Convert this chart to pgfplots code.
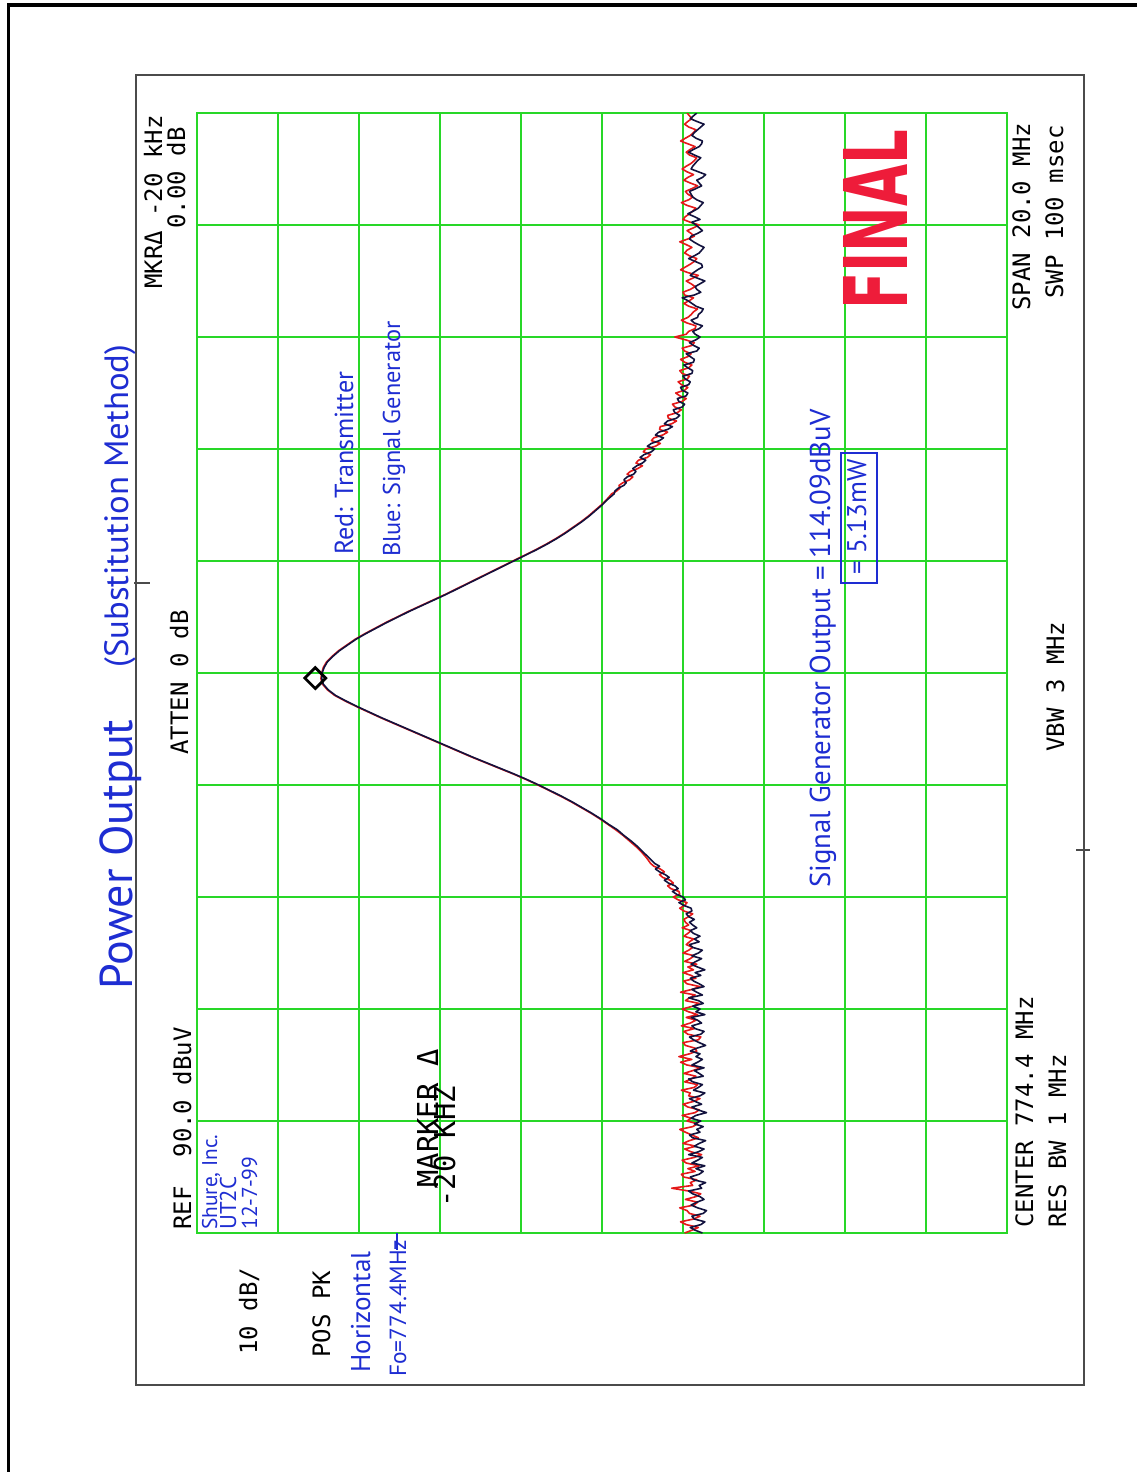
\documentclass[border=0pt]{standalone}
\usepackage{fontspec}
\usepackage{pgfplots}
\pgfplotsset{compat=1.18}
\usepackage{pgfplotstable}

\newfontfamily\plotter{DejaVu Sans Mono}
\newfontfamily\hand{PT Sans}
\newfontfamily\stamp{DejaVu Sans}

\definecolor{gridgreen}{RGB}{40,215,40}
\definecolor{trred}{RGB}{228,25,25}
\definecolor{trblue}{RGB}{18,18,62}
\definecolor{ink}{RGB}{30,45,210}
\definecolor{stampred}{RGB}{238,28,58}
\definecolor{framegray}{RGB}{75,75,75}

% Spectrum analyser sweep: frequency (MHz), transmitter trace (r), signal generator trace (b), levels in dBuV
\pgfplotstableread{
f r b
764.40 29.8 27.6
764.45 28.9 28.5
764.50 28.1 29.1
764.55 29.6 27.8
764.60 30.3 27.3
764.65 28.7 28.6
764.70 27.9 28.9
764.75 29.2 27.5
764.80 29.5 27.1
764.85 30.4 28.2
764.90 28.6 29.0
764.95 28.2 28.3
765.00 29.7 27.4
765.05 28.4 27.9
765.10 27.8 28.8
765.15 29.3 29.3
765.20 31.4 27.7
765.25 28.8 28.0
765.30 29.1 27.2
765.35 28.3 28.7
765.40 29.9 29.1
765.45 30.2 28.0
765.50 28.5 27.5
765.55 29.4 28.4
765.60 28.0 27.3
765.65 29.6 28.9
765.70 30.1 28.2
765.75 28.6 27.6
765.80 27.7 29.3
765.85 29.0 28.1
765.90 29.8 27.4
765.95 28.4 28.6
766.00 30.0 28.0
766.05 29.2 27.2
766.10 28.1 28.8
766.15 28.9 29.2
766.20 29.7 27.9
766.25 30.4 28.3
766.30 28.8 27.5
766.35 28.2 28.6
766.40 29.5 27.8
766.45 29.0 29.0
766.50 30.1 28.4
766.55 28.5 27.1
766.60 28.0 28.2
766.65 29.4 28.9
766.70 30.0 27.7
766.75 28.7 28.5
766.80 27.9 29.2
766.85 29.3 27.9
766.90 29.1 27.3
766.95 30.2 28.7
767.00 28.6 28.1
767.05 28.2 27.6
767.10 29.8 28.8
767.15 29.0 29.3
767.20 28.4 27.5
767.25 29.9 28.0
767.30 28.8 28.6
767.35 27.8 27.4
767.40 29.5 28.9
767.45 30.3 28.2
767.50 28.9 27.6
767.55 30.5 28.4
767.60 29.2 27.9
767.65 28.3 29.1
767.70 28.5 28.3
767.75 29.7 27.2
767.80 30.0 28.0
767.85 28.1 28.7
767.90 27.8 29.2
767.95 29.4 27.8
768.00 29.9 27.4
768.05 28.6 28.5
768.10 30.2 28.9
768.15 29.1 27.7
768.20 28.4 28.2
768.25 29.6 29.0
768.30 28.2 27.3
768.35 29.3 28.4
768.40 30.1 27.9
768.45 28.8 28.8
768.50 28.0 27.5
768.55 29.7 28.1
768.60 29.2 29.3
768.65 28.5 27.6
768.70 30.3 28.3
768.75 28.9 28.9
768.80 27.9 27.4
768.85 29.5 28.0
768.90 29.9 28.7
768.95 28.4 29.1
769.00 29.0 27.8
769.05 30.0 28.5
769.10 28.7 27.3
769.15 29.4 28.2
769.20 28.3 29.0
769.25 29.8 28.4
769.30 29.1 27.7
769.35 28.6 28.9
769.40 30.0 28.1
769.45 29.3 27.6
769.50 28.8 28.8
769.55 29.6 29.2
769.60 29.2 28.0
769.65 28.7 28.6
769.70 29.9 27.9
769.75 29.4 28.7
769.80 29.0 29.1
769.85 30.1 28.3
769.90 29.3 28.8
769.95 29.7 29.2
770.00 29.9 28.6
770.05 29.3 29.3
770.10 28.8 29.6
770.15 29.9 28.9
770.20 30.4 29.0
770.25 29.8 29.9
770.30 29.5 30.5
770.35 30.6 29.7
770.40 31.2 30.0
770.45 30.4 30.8
770.50 30.5 31.3
770.55 31.5 30.6
770.60 31.9 31.0
770.65 31.2 31.8
770.70 31.6 32.3
770.75 32.5 31.7
770.80 32.9 32.2
770.85 32.3 32.9
770.90 32.8 33.4
770.95 33.6 32.9
771.00 34.0 33.5
771.10 34.5 34.2
771.20 35.1 34.9
771.30 35.8 35.6
771.40 36.6 36.4
771.50 37.4 37.3
771.60 38.3 38.1
771.70 39.3 39.2
771.80 40.3 40.2
771.90 41.4 41.3
772.00 42.6 42.5
772.10 43.8 43.7
772.20 45.1 45.0
772.30 46.5 46.4
772.40 47.9 47.8
772.50 49.4 49.3
772.60 51.0 50.9
772.70 52.7 52.6
772.80 54.4 54.3
772.90 56.1 56.0
773.00 57.7 57.6
773.10 59.3 59.2
773.20 60.9 60.8
773.30 62.5 62.4
773.40 64.1 64.0
773.50 65.7 65.6
773.60 67.3 67.2
773.70 68.8 68.7
773.80 70.3 70.2
773.90 71.7 71.6
774.00 73.0 72.9
774.10 73.9 73.8
774.20 74.5 74.4
774.30 74.7 74.6
774.40 74.6 74.55
774.50 74.4 74.3
774.60 74.0 73.9
774.70 73.3 73.2
774.80 72.5 72.4
774.90 71.5 71.4
775.00 70.5 70.4
775.10 69.3 69.2
775.20 68.0 67.9
775.30 66.7 66.6
775.40 65.3 65.2
775.50 63.9 63.8
775.60 62.4 62.3
775.70 60.9 60.8
775.80 59.4 59.3
775.90 58.0 57.9
776.00 56.6 56.5
776.10 55.2 55.1
776.20 53.8 53.7
776.30 52.4 52.3
776.40 51.0 50.9
776.50 49.6 49.5
776.60 48.2 48.1
776.70 46.9 46.8
776.80 45.7 45.6
776.90 44.6 44.5
777.00 43.6 43.5
777.10 42.6 42.5
777.20 41.7 41.6
777.30 40.9 40.8
777.40 40.1 40.0
777.50 39.4 39.3
777.60 38.8 38.5
777.65 38.2 38.4
777.70 37.8 38.0
777.75 37.9 37.3
777.80 37.4 37.0
777.85 36.6 37.3
777.90 36.2 36.9
777.95 36.9 36.1
778.00 36.5 35.8
778.05 35.6 36.2
778.10 35.0 35.7
778.15 35.8 35.0
778.20 35.5 34.6
778.25 34.4 35.3
778.30 34.0 34.8
778.35 34.9 33.9
778.40 34.6 33.5
778.45 33.4 34.4
778.50 32.8 33.9
778.55 33.9 32.9
778.60 33.6 32.4
778.65 32.5 33.4
778.70 31.9 33.0
778.75 32.9 31.9
778.80 32.8 31.3
778.85 31.4 32.3
778.90 30.8 31.9
778.95 31.8 30.8
779.00 31.9 30.4
779.05 30.7 31.0
779.10 30.2 31.2
779.15 31.0 30.1
779.20 31.3 29.8
779.25 30.1 30.5
779.30 29.6 30.7
779.35 30.4 29.6
779.40 30.9 29.4
779.45 29.8 30.1
779.50 29.4 30.3
779.55 30.2 29.3
779.60 30.6 29.1
779.65 29.5 29.7
779.70 29.2 30.0
779.75 30.1 28.9
779.80 30.4 28.8
779.85 29.3 29.4
779.90 28.9 29.9
779.95 29.8 28.7
780.00 30.3 28.6
780.05 29.4 29.1
780.10 29.0 29.6
780.15 29.8 28.3
780.20 30.1 28.0
780.25 28.9 28.7
780.30 28.6 29.2
780.35 29.7 28.4
780.40 31.0 27.9
780.45 29.6 28.5
780.50 29.3 28.8
780.55 28.5 28.0
780.60 28.4 27.6
780.65 29.5 28.6
780.70 30.2 29.0
780.75 29.4 28.2
780.80 29.0 28.1
780.85 28.7 27.7
780.90 28.2 27.5
780.95 29.3 28.4
781.00 29.9 28.9
781.05 29.2 29.4
781.10 28.7 30.1
781.15 29.8 28.6
781.20 30.0 27.8
781.25 29.1 28.3
781.30 28.5 28.5
781.35 29.0 27.9
781.40 29.6 27.3
781.45 28.8 28.2
781.50 28.1 29.1
781.55 29.4 28.7
781.60 30.3 28.2
781.65 29.7 27.6
781.70 29.1 27.7
781.75 28.6 28.5
781.80 28.3 29.3
781.85 29.2 28.6
781.90 29.8 28.0
781.95 29.5 27.7
782.00 28.9 27.4
782.05 29.6 28.1
782.10 30.4 28.7
782.15 29.4 29.2
782.20 28.6 29.0
782.25 29.0 28.2
782.30 29.5 27.6
782.35 28.7 28.0
782.40 28.0 28.4
782.45 29.1 28.9
782.50 30.0 27.9
782.55 29.7 28.6
782.60 29.2 29.4
782.65 28.8 28.7
782.70 28.4 28.1
782.75 29.5 27.8
782.80 30.2 27.5
782.85 29.3 28.3
782.90 28.8 28.8
782.95 29.4 29.0
783.00 29.7 29.2
783.05 28.9 28.4
783.10 28.2 27.7
783.15 29.1 28.0
783.20 29.9 28.3
783.25 29.4 27.6
783.30 28.7 27.2
783.35 29.5 28.1
783.40 30.1 29.0
783.45 29.6 28.8
783.50 29.0 28.5
783.55 28.6 28.2
783.60 28.3 27.8
783.65 29.2 28.6
783.70 29.6 29.3
783.75 29.1 28.7
783.80 28.5 28.0
783.85 29.4 27.7
783.90 30.3 27.6
783.95 29.7 28.4
784.00 29.1 28.9
784.05 28.7 28.6
784.10 28.4 28.2
784.15 29.3 27.8
784.20 29.8 27.4
784.25 29.4 28.3
784.30 28.9 29.1
784.35 29.2 28.7
784.40 29.5 28.3
}\tracedata

\tikzset{
  prt/.style={rotate=90, inner sep=0pt, font=\plotter\fontsize{12}{14}\selectfont},
  big/.style={rotate=90, inner sep=0pt, font=\plotter\fontsize{14.4}{16}\selectfont},
  hw/.style={rotate=90, inner sep=0pt, text=ink, font=\hand},
}

\begin{document}
\begin{tikzpicture}
% page: 1 unit = one pixel of the printout, origin top-left
\begin{scope}[x=0.5pt, y=-0.5pt]
  \path[use as bounding box] (0,0) rectangle (1137,1472);
  \fill[white] (0,0) rectangle (1137,1472);
  \draw[black, line width=1.6pt] (8.5,1472) -- (8.5,5) -- (1137,5);
  \draw[framegray, line width=1pt] (136,75) rectangle (1084,1385);
  \draw[framegray, line width=0.8pt] (134,583) -- (150,583);
  \draw[framegray, line width=0.8pt] (1076,850) -- (1090,850);
\end{scope}

% analyser screen: level axis runs left to right (reference level at left), frequency bottom to top
\begin{axis}[
  at={(98.5pt,-616.5pt)}, anchor=south west,
  scale only axis, width=405pt, height=560pt,
  x dir=reverse, xmin=-10, xmax=90,
  ymin=764.4, ymax=784.4,
  xtick={-10,0,...,90},
  ytick={764.4,766.4,768.4,770.4,772.4,774.4,776.4,778.4,780.4,782.4,784.4},
  xticklabels={}, yticklabels={},
  major tick length=0pt,
  grid=major,
  major grid style={draw=gridgreen, line width=1.1pt},
  axis line style={draw=gridgreen, line width=1.1pt},
  clip=true,
]
  \addplot[trred, line width=0.8pt, line join=round] table[x=r, y=f] {\tracedata};
  \addplot[trblue, line width=0.8pt, line join=round] table[x=b, y=f] {\tracedata};
  % peak marker
  \addplot[only marks, mark=square, mark size=3.7pt,
    mark options={rotate=45, draw=black, fill=none, line width=1.4pt}]
    coordinates {(75.4,774.31)};
\end{axis}

\begin{scope}[x=0.5pt, y=-0.5pt]
  % instrument annotations
  \node[prt, anchor=base east] at (162,115) {MKRΔ -20 kHz};
  \node[prt, anchor=base east] at (185,127) {0.00 dB};
  \node[prt, anchor=base west] at (188,755) {ATTEN 0 dB};
  \node[prt, anchor=base west] at (191,1230) {REF~~90.0 dBuV};
  \node[prt, anchor=base west] at (257,1355) {10 dB/};
  \node[prt, anchor=base west] at (330,1358) {POS PK};
  \node[prt, anchor=base west] at (1033,1228) {CENTER 774.4 MHz};
  \node[prt, anchor=base west] at (1066,1228) {RES BW 1 MHz};
  \node[prt, anchor=base west] at (1064,752) {VBW 3 MHz};
  \node[prt, anchor=base west] at (1030,311) {SPAN 20.0 MHz};
  \node[prt, anchor=base west] at (1063,299) {SWP 100 msec};
  \node[big, anchor=base west] at (438,1188) {MARKER Δ};
  \node[big, anchor=base west] at (455,1208) {-20 KHZ};

  % stamp
  \node[rotate=90, inner sep=0pt, anchor=base west, text=stampred, font=\stamp\bfseries]
    at (907,310) {\resizebox{90pt}{32pt}{FINAL}};

  % handwritten notes
  \node[hw, anchor=base west] at (132,990) {\resizebox{135pt}{!}{Power Output}};
  \node[hw, anchor=base west] at (128,668) {\resizebox{161.5pt}{12pt}{(Substitution Method)}};
  \node[hw, anchor=base west] at (353,555) {\resizebox{91.5pt}{!}{Red: Transmitter}};
  \node[hw, anchor=base west] at (400,557) {\resizebox{117.5pt}{!}{Blue: Signal Generator}};
  \node[hw, anchor=base west] at (830,888) {\resizebox{239pt}{!}{Signal Generator Output = 114.09dBuV}};
  \node[hw, anchor=base west] at (866,575) {\resizebox{57.5pt}{!}{= 5.13mW}};
  \draw[ink, line width=1pt] (841,453) rectangle (877,583);
  \node[hw, anchor=base west] at (217,1230) {\resizebox{47.5pt}{!}{Shure, Inc.}};
  \node[hw, anchor=base west] at (236,1230) {\resizebox{26.5pt}{!}{UT2C}};
  \node[hw, anchor=base west] at (257,1230) {\resizebox{36.5pt}{!}{12-7-99}};
  \node[hw, anchor=base west] at (370,1373) {\resizebox{60.5pt}{!}{Horizontal}};
  \node[hw, anchor=base west] at (406,1377) {\resizebox{68.5pt}{!}{Fo=774.4MHz}};
  \draw[ink, line width=0.8pt] (397,1233) -- (397,1250);
\end{scope}
\end{tikzpicture}
\end{document}
